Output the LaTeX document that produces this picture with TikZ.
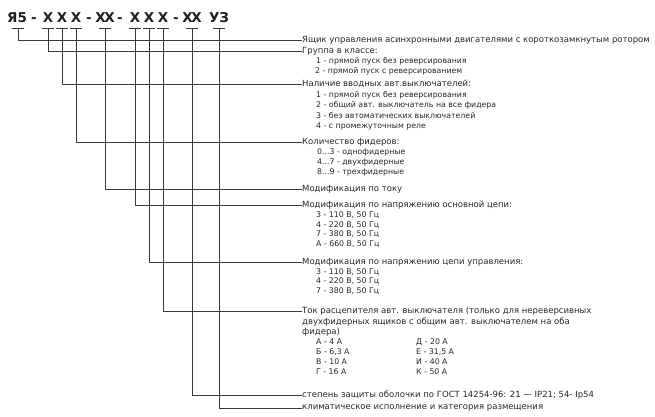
\documentclass[tikz,border=0pt]{standalone}
\usepackage{fontspec}
\setmainfont{DejaVu Sans}
\begin{document}
\begin{tikzpicture}[x=1pt,y=-1pt,
  ln/.style={draw=black!78,line width=0.9pt},
  hd/.style={anchor=base,inner sep=0pt,font=\fontsize{13.5}{13.5}\selectfont\bfseries,text=black!88},
  main/.style={anchor=west,inner sep=0pt,font=\fontsize{8.5}{9}\selectfont,text=black!85},
  sub/.style={anchor=west,inner sep=0pt,font=\fontsize{7.8}{8}\selectfont,text=black!85}]
\useasboundingbox (0,0) rectangle (655,417);
% header
\node[hd] (h1) at (17,23) {Я5};
\node[hd] (d1) at (34,23) {-};
\node[hd] (h2) at (48,23) {X};
\node[hd] (h3) at (62,23) {X};
\node[hd] (h4) at (76,23) {X};
\node[hd] (d2) at (89,23) {-};
\node[hd] (h5) at (105,23) {X\kern-1.5ptX};
\node[hd] (d3) at (120,23) {-};
\node[hd] (h6) at (135,23) {X};
\node[hd] (h7) at (149,23) {X};
\node[hd] (h8) at (163,23) {X};
\node[hd] (d4) at (176,23) {-};
\node[hd] (h9) at (192,23) {X\kern-1.5ptX};
\node[hd] (h10) at (219,23) {УЗ};
% text
\node[main] (t1) at (302,40) {Ящик управления асинхронными двигателями с короткозамкнутым ротором};
\node[main] (t2) at (302,51) {Группа в классе:};
\node[sub] (t2a) at (316,61) {1 - прямой пуск без реверсирования};
\node[sub] (t2b) at (315,71) {2 - прямой пуск с реверсированием};
\node[main] (t3) at (302,84) {Наличие вводных авт.выключателей:};
\node[sub] (t3a) at (316,95) {1 - прямой пуск без реверсирования};
\node[sub] (t3b) at (316,105.5) {2 - общий авт. выключатель на все фидера};
\node[sub] (t3c) at (316,116) {3 - без автоматических выключателей};
\node[sub] (t3d) at (316,126.5) {4 - с промежуточным реле};
\node[main] (t4) at (302,142) {Количество фидеров:};
\node[sub] (t4a) at (317,152) {0...3 - однофидерные};
\node[sub] (t4b) at (317,162) {4...7 - двухфидерные};
\node[sub] (t4c) at (317,172.5) {8...9 - трехфидерные};
\node[main] (t5) at (302,189) {Модификация по току};
\node[main] (t6) at (302,205) {Модификация по напряжению основной цепи:};
\node[sub] (t6a) at (316,215) {3 - 110 В, 50 Гц};
\node[sub] (t6b) at (316,225) {4 - 220 В, 50 Гц};
\node[sub] (t6c) at (316,234.5) {7 - 380 В, 50 Гц};
\node[sub] (t6d) at (316,244) {А - 660 В, 50 Гц};
\node[main] (t7) at (302,262) {Модификация по напряжению цепи управления:};
\node[sub] (t7a) at (316,272) {3 - 110 В, 50 Гц};
\node[sub] (t7b) at (316,281.5) {4 - 220 В, 50 Гц};
\node[sub] (t7c) at (316,291) {7 - 380 В, 50 Гц};
\node[main] (t8) at (302,311.5) {Ток расцепителя авт. выключателя (только для нереверсивных};
\node[main] (t8l2) at (302,322) {двухфидерных ящиков с общим авт. выключателем на оба};
\node[main] (t8l3) at (302,332) {фидера)};
\node[sub] (t8a) at (316,342) {А - 4 А};
\node[sub] (t8b) at (316,352) {Б - 6,3 А};
\node[sub] (t8c) at (316,362) {В - 10 А};
\node[sub] (t8d) at (316,372) {Г - 16 А};
\node[sub] (t8e) at (416,342) {Д - 20 А};
\node[sub] (t8f) at (416,352) {Е - 31,5 А};
\node[sub] (t8g) at (416,362) {И - 40 А};
\node[sub] (t8h) at (416,372) {К - 50 А};
\node[main] (t9) at (302,395) {степень защиты оболочки по ГОСТ 14254-96: 21 — IP21; 54- Ip54};
\node[main] (t10) at (302,408) {климатическое исполнение и категория размещения};
% connectors
\foreach \c/\t in {18/t1,48/t2,62/t3,76/t4,105/t5,135/t6,149/t7,163/t8,192/t9,219/t10}{
  \draw[ln] (\c-6,28) -- (\c+6,28);
  \draw[ln] (\c,28) |- (\t.west);
}
\end{tikzpicture}
\end{document}
